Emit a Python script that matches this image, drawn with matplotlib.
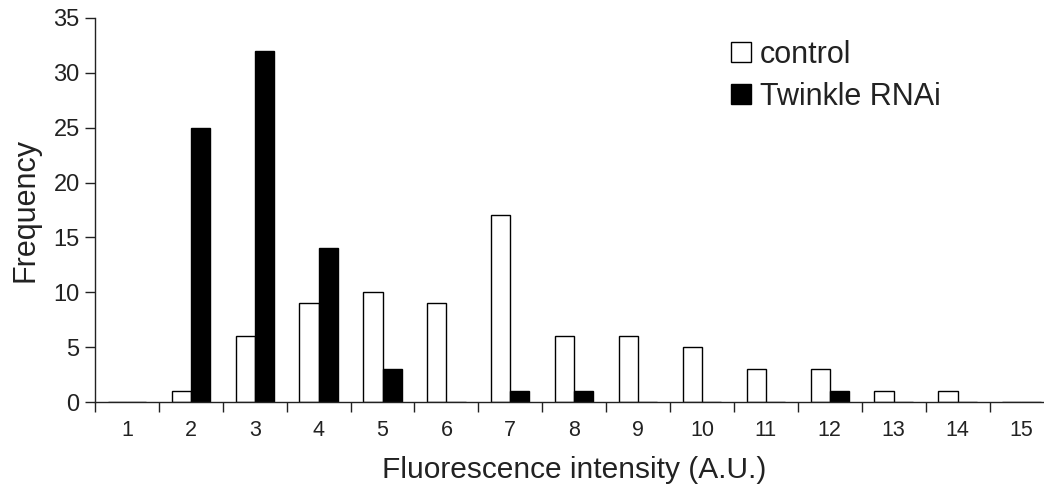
import matplotlib
matplotlib.use("Agg")
import matplotlib.pyplot as plt
import numpy as np

plt.rcParams['font.family'] = ['Liberation Sans', 'DejaVu Sans']

categories = list(range(1, 16))
control = [0, 1, 6, 9, 10, 9, 17, 6, 6, 5, 3, 3, 1, 1, 0]
twinkle_rnai = [0, 25, 32, 14, 3, 0, 1, 1, 0, 0, 0, 1, 0, 0, 0]
y_ticks = [0, 5, 10, 15, 20, 25, 30, 35]

fig = plt.figure(figsize=(10.44, 4.97), dpi=100)
ax = fig.add_axes([0.091, 0.191, 0.918, 0.773])

x = np.array(categories)
w = 0.3
ax.bar(x - w / 2, control, width=w, facecolor='white', edgecolor='black', linewidth=1.0, label='control')
ax.bar(x + w / 2, twinkle_rnai, width=w, facecolor='black', edgecolor='black', linewidth=1.0, label='Twinkle RNAi')

ax.set_xlim(0.5, 15.5)
ax.set_ylim(0, 35)
ax.set_yticks(y_ticks)
ax.set_xticks(x)
ax.set_xticklabels([str(c) for c in categories])
ax.set_xticks(np.arange(0.5, 15.6, 1), minor=True)
ax.tick_params(axis='x', which='major', length=0, pad=13, labelsize=15.5, labelcolor='#222222')
ax.tick_params(axis='x', which='minor', length=7, width=1, direction='out', color='#222222')
ax.tick_params(axis='y', length=7, width=1, direction='out', pad=4, labelsize=17, labelcolor='#222222', color='#222222')

for s in ['top', 'right']:
    ax.spines[s].set_visible(False)
for s in ['left', 'bottom']:
    ax.spines[s].set_linewidth(1.0)
    ax.spines[s].set_color('#222222')

ax.set_ylabel('Frequency', fontsize=22, color='#222222', labelpad=9)
ax.set_xlabel('Fluorescence intensity (A.U.)', fontsize=21.5, color='#222222', labelpad=11)

leg = ax.legend(loc='upper left', bbox_to_anchor=(0.651, 0.975), frameon=False,
                fontsize=22, handlelength=0.65, handleheight=0.65, handletextpad=0.3,
                labelspacing=0.4, borderaxespad=0)
for t in leg.get_texts():
    t.set_color('#222222')

fig.savefig('out.png', dpi=100)
